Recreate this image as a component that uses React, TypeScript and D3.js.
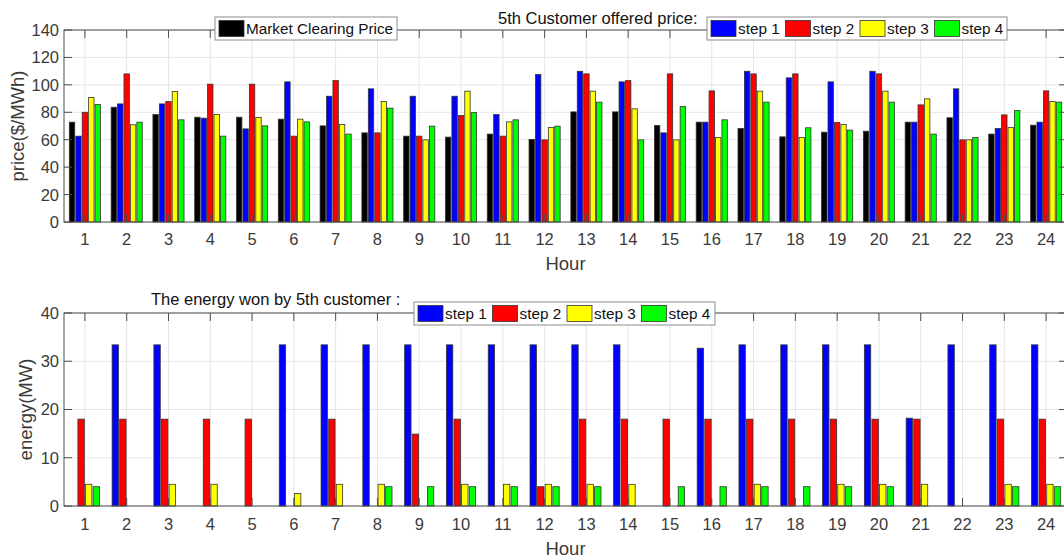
import React from "react";
import * as d3 from "d3";

const hours = [1, 2, 3, 4, 5, 6, 7, 8, 9, 10, 11, 12, 13, 14, 15, 16, 17, 18, 19, 20, 21, 22, 23, 24];

// top chart: market clearing price + offered price per step ($/MWh)
const marketPrice = [72.8, 83.7, 78.4, 76.4, 76.4, 75, 70.1, 65, 62.6, 61.9, 64.1, 60.2, 80.3, 80.3, 70.4, 72.8, 68.2, 62.1, 65.5, 66.2, 72.8, 76, 64.1, 70.6];
const offerStep1 = [62.6, 86.1, 86.1, 75.7, 67.9, 102.2, 91.7, 97.1, 91.7, 91.7, 78.4, 107.5, 109.9, 102.2, 65, 72.8, 109.9, 105.1, 102.2, 109.9, 72.8, 97.1, 68.2, 72.8];
const offerStep2 = [80, 108, 87.8, 100.5, 100.5, 62.6, 103.1, 65, 62.6, 77.7, 62.6, 59.9, 108, 103.1, 108, 95.6, 108, 108, 72.6, 108, 85.4, 59.9, 78.1, 95.6];
const offerStep3 = [90.8, 70.9, 95.1, 78.4, 76.2, 75, 71.1, 87.8, 59.9, 95.4, 73, 68.9, 95.4, 82.5, 59.9, 61.6, 95.4, 61.6, 71.1, 95.4, 89.8, 59.9, 68.9, 87.8];
const offerStep4 = [85.7, 72.8, 74.5, 62.6, 70.1, 73, 64.1, 83, 69.9, 79.8, 74.5, 69.9, 87.4, 59.9, 84.2, 74.5, 87.4, 68.7, 67, 87.4, 64.1, 61.6, 81.3, 87.4];

// bottom chart: energy won per step (MW)
const energyStep1 = [0, 33.4, 33.4, 0, 0, 33.4, 33.4, 33.4, 33.4, 33.4, 33.4, 33.4, 33.4, 33.4, 0, 32.7, 33.4, 33.4, 33.4, 33.4, 18.2, 33.4, 33.4, 33.4];
const energyStep2 = [18, 18, 18, 18, 18, 0, 18, 0, 14.9, 18, 0, 4, 18, 18, 18, 18, 18, 18, 18, 18, 18, 0, 18, 18];
const energyStep3 = [4.5, 0, 4.5, 4.5, 0, 2.6, 4.5, 4.5, 0, 4.5, 4.5, 4.5, 4.5, 4.5, 0, 0, 4.5, 0, 4.5, 4.5, 4.5, 0, 4.5, 4.5];
const energyStep4 = [4, 0, 0, 0, 0, 0, 0, 4, 4, 4, 4, 4, 4, 0, 4, 4, 4, 4, 4, 4, 0, 0, 4, 4];

const priceTicks = [0, 20, 40, 60, 80, 100, 120, 140];
const energyTicks = [0, 10, 20, 30, 40];

const stepNames = ["step 1", "step 2", "step 3", "step 4"];
const stepColors = ["#0000ff", "#ff0000", "#ffff00", "#00ff00"];

const FONT = "'Liberation Sans', Arial, Helvetica, sans-serif";
const AXIS = "#4d4d4d";
const TEXT = "#3a3a3a";
const GRID = "#e6e6e6";
const EDGE = "#333";

const x = d3.scaleLinear().domain([0.5, 24.5]).range([64, 1067]);
const band = x(2) - x(1);

interface PanelProps {
  y: d3.ScaleLinear<number, number>;
  ticks: number[];
  series: number[][];
  colors: string[];
  yLabel: string;
  labelX: number;
  tickBase: number;
  hourBase: number;
}

const Panel: React.FC<PanelProps> = ({ y, ticks, series, colors, yLabel, labelX, tickBase, hourBase }) => {
  const [y0, y1] = y.range();
  const [xl, xr] = x.range();
  const n = series.length;
  const groupW = band * (n / (n + 1.5));
  const slot = groupW / n;
  const barW = slot * 0.84;
  return (
    <g>
      {/* grid */}
      {ticks.map((t) => (
        <line key={"gy" + t} x1={xl} x2={xr} y1={y(t)} y2={y(t)} stroke={GRID} />
      ))}
      {hours.map((h) => (
        <line key={"gx" + h} x1={x(h)} x2={x(h)} y1={y0} y2={y1} stroke={GRID} />
      ))}
      {/* bars */}
      {series.map((vals, si) =>
        vals.map((v, i) =>
          v > 0 ? (
            <rect
              key={si + "-" + i}
              x={x(hours[i]) - groupW / 2 + si * slot + (slot - barW) / 2}
              y={y(v)}
              width={barW}
              height={y0 - y(v)}
              fill={colors[si]}
              stroke={EDGE}
              strokeWidth={0.8}
            />
          ) : null
        )
      )}
      {/* box and ticks */}
      <rect x={xl} y={y1} width={xr - xl} height={y0 - y1} fill="none" stroke={AXIS} />
      {hours.map((h) => (
        <g key={"t" + h}>
          <line x1={x(h)} x2={x(h)} y1={y0} y2={y0 - 8} stroke={AXIS} />
          <line x1={x(h)} x2={x(h)} y1={y1} y2={y1 + 8} stroke={AXIS} />
          <text x={x(h)} y={tickBase} textAnchor="middle" fontSize={16.5} fill={TEXT} fontFamily={FONT}>
            {h}
          </text>
        </g>
      ))}
      {ticks.map((t) => (
        <g key={"ty" + t}>
          <line x1={xl} x2={xl + 8} y1={y(t)} y2={y(t)} stroke={AXIS} />
          <line x1={xr} x2={xr - 8} y1={y(t)} y2={y(t)} stroke={AXIS} />
          <text x={59} y={y(t)} dy="0.36em" textAnchor="end" fontSize={16.5} fill={TEXT} fontFamily={FONT}>
            {t}
          </text>
        </g>
      ))}
      <text x={(xl + xr) / 2} y={hourBase} textAnchor="middle" fontSize={18.5} fill={TEXT} fontFamily={FONT}>
        Hour
      </text>
      <text
        transform={`translate(${labelX},${(y0 + y1) / 2}) rotate(-90)`}
        textAnchor="middle"
        fontSize={18.5}
        fill={TEXT}
        fontFamily={FONT}
      >
        {yLabel}
      </text>
    </g>
  );
};

interface LegendProps {
  x0: number;
  y0: number;
  w: number;
  names: string[];
  colors: string[];
  pitch: number;
}

const Legend: React.FC<LegendProps> = ({ x0, y0, w, names, colors, pitch }) => (
  <g>
    <rect x={x0} y={y0} width={w} height={23} fill="#fff" stroke="#8c8c8c" />
    {names.map((name, i) => (
      <g key={name}>
        <rect x={x0 + 4 + i * pitch} y={y0 + 3.5} width={25} height={16} fill={colors[i]} stroke={EDGE} strokeWidth={0.8} />
        <text x={x0 + 31 + i * pitch} y={y0 + 17} fontSize={15.3} fill="#111" fontFamily={FONT}>
          {name}
        </text>
      </g>
    ))}
  </g>
);

export default function App() {
  const yPrice = d3.scaleLinear().domain([0, 140]).range([222, 30]);
  const yEnergy = d3.scaleLinear().domain([0, 40]).range([506, 313]);

  return (
    <svg
      width={1064}
      height={558}
      style={{ position: "absolute", left: 0, top: 0, background: "#fff" }}
    >
      <Panel
        y={yPrice}
        ticks={priceTicks}
        series={[marketPrice, offerStep1, offerStep2, offerStep3, offerStep4]}
        colors={["#000000", ...stepColors]}
        yLabel="price($/MWh)"
        labelX={24}
        tickBase={245}
        hourBase={270}
      />
      <Panel
        y={yEnergy}
        ticks={energyTicks}
        series={[energyStep1, energyStep2, energyStep3, energyStep4]}
        colors={stepColors}
        yLabel="energy(MW)"
        labelX={32}
        tickBase={530}
        hourBase={555}
      />
      <Legend x0={215} y0={17} w={182} names={["Market Clearing Price"]} colors={["#000000"]} pitch={0} />
      <text x={498} y={24} fontSize={16.5} fill="#111" fontFamily={FONT}>
        5th Customer offered price:
      </text>
      <Legend x0={707} y0={17} w={300} names={stepNames} colors={stepColors} pitch={74.5} />
      <text x={151} y={305} fontSize={16.5} fill="#111" fontFamily={FONT}>
        The energy won by 5th customer :
      </text>
      <Legend x0={414} y0={302} w={301} names={stepNames} colors={stepColors} pitch={74.5} />
    </svg>
  );
}
